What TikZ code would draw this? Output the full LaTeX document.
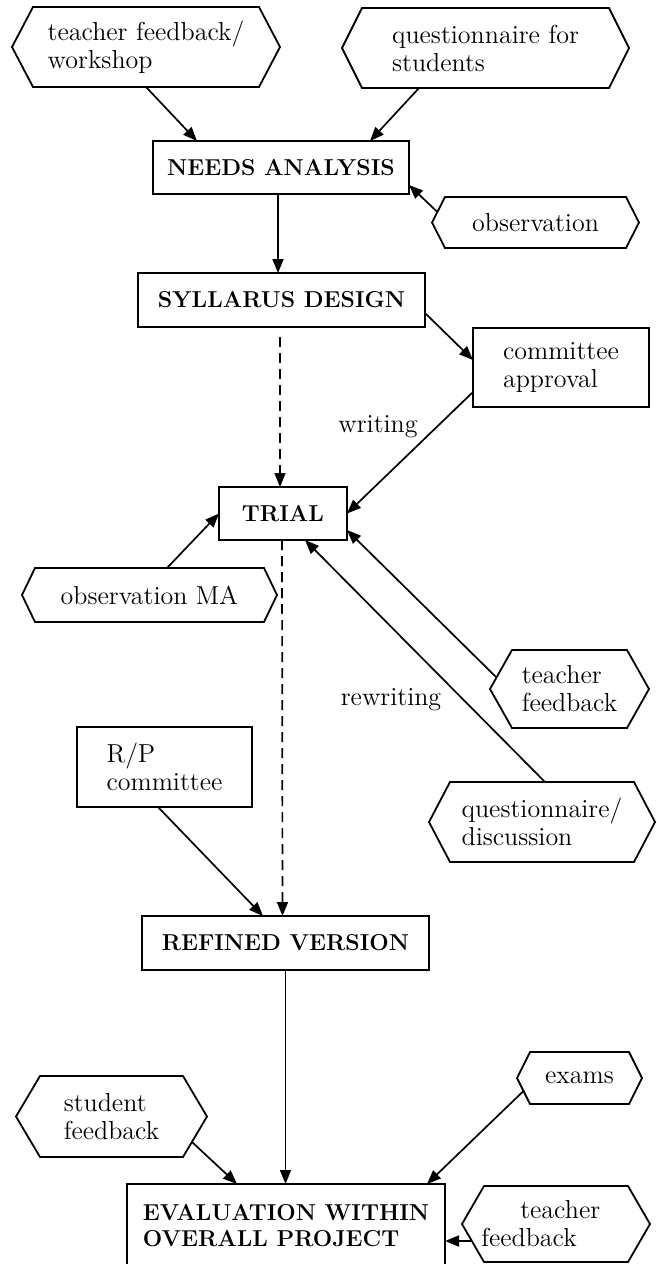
\documentclass[tikz,border=0pt]{standalone}
\usepackage{fontspec}
\usetikzlibrary{arrows.meta,calc}
\newcommand{\rmtxt}{\fontsize{13}{14}\selectfont}
\newcommand{\bftxt}{\fontsize{11.5}{13}\selectfont\bfseries}
\begin{document}
\begin{tikzpicture}[x=0.5pt,y=-0.5pt,
  every node/.style={inner sep=0pt,outer sep=0pt},
  hexbody/.style={rectangle,align=left,font=\rmtxt},
  hexline/.style={draw,line width=0.9pt,line join=miter},
  box/.style={rectangle,draw,line width=0.9pt,align=left,font=\bftxt},
  rbox/.style={rectangle,draw,line width=0.9pt,align=left,font=\rmtxt},
  lbl/.style={font=\rmtxt},
  arr/.style={line width=0.85pt,-{Triangle[length=7pt,width=5.5pt]}},
  darr/.style={arr,dash pattern=on 5pt off 3pt}]
\useasboundingbox (0,0) rectangle (657,1264);
\fill[white] (0,0) rectangle (657,1264);
\clip (0,0) rectangle (657,1264);

% hexagon-shaped inputs (text bodies)
\node[hexbody,minimum width=134pt,minimum height=40pt] (h1) at (146,47) {teacher feedback/\\workshop};
\node[hexbody,minimum width=143.5pt,minimum height=40pt] (h2) at (485.5,48) {questionnaire for\\students};
\node[hexbody,minimum width=103.5pt,minimum height=25.5pt] (obs) at (535.5,222.5) {observation};
\node[hexbody,minimum width=127.5pt,minimum height=27pt] (obsma) at (149.5,595) {observation MA};
\node[hexbody,minimum width=79.5pt,minimum height=39pt] (tf) at (569.5,689) {teacher\\feedback};
\node[hexbody,minimum width=113pt,minimum height=40pt] (qd) at (542,822) {questionnaire/\\discussion};
\node[hexbody,minimum width=62.5pt,minimum height=26pt] (ex) at (579.5,1078) {exams};
\node[hexbody,minimum width=95.5pt,minimum height=40.5pt] (sf) at (111.5,1116.5) {student\\feedback};
\node[hexbody,minimum width=94pt,minimum height=38pt] (tf2) at (556,1224) {\hspace*{19.5pt}teacher\\feedback\hspace*{27pt}};

\foreach \n/\d in {h1/21,h2/20,obs/13,obsma/13,tf/22,qd/21,ex/13,sf/24,tf2/22}{
  \draw[hexline] (\n.west) -- ($(\n.north west)+(\d,0)$) -- ($(\n.north east)+(-\d,0)$)
    -- (\n.east) -- ($(\n.south east)+(-\d,0)$) -- ($(\n.south west)+(\d,0)$) -- cycle;
}

% boxes
\node[box,minimum width=128pt,minimum height=26.5pt] (needs) at (281,167.5) {NEEDS ANALYSIS};
\node[box,minimum width=143.5pt,minimum height=27pt] (syll) at (281.5,300) {SYLLARUS DESIGN};
\node[rbox,minimum width=88pt,minimum height=39.5pt] (comm) at (561,367.5) {committee\\approval};
\node[box,minimum width=64pt,minimum height=26.5pt] (trial) at (283,513.5) {TRIAL};
\node[rbox,minimum width=87.5pt,minimum height=40pt] (rp) at (164.5,767) {R/P\\committee};
\node[box,minimum width=143.5pt,minimum height=27pt] (ref) at (285.5,943) {REFINED VERSION};
\node[box,minimum width=159pt,minimum height=42pt] (eval) at (286,1226) {EVALUATION WITHIN\\OVERALL PROJECT};

% labels
\node[lbl] (wlab) at (378,427) {writing};
\node[lbl] (rwlab) at (391,700) {rewriting};

% connectors
\draw[arr] (h1.south) -- ($(needs.north west)+(44,0)$);
\draw[arr] ($(h2.south west)+(77,0)$) -- ($(needs.north east)+(-39,0)$);
\draw[arr] ($(obs.west)+(5.4,-10.5)$) -- ($(needs.east)+(0,17.5)$);
\draw[arr] ($(needs.south)+(-3,0)$) -- ($(syll.north)+(-3.5,0)$);
\draw[arr] ($(syll.east)+(0,13)$) -- ($(comm.west)+(0,-7.5)$);
\draw[darr] ($(syll.south)+(-1.5,10)$) -- ($(trial.north)+(-3,0)$);
\draw[arr] ($(comm.south west)+(0,-15)$) -- (trial.east);
\draw[arr] ($(obsma.north)+(17.5,0)$) -- (trial.west);
\draw[arr] ($(tf.west)+(6,-12)$) -- ($(trial.south east)+(0,-10)$);
\draw[arr] ($(qd.north)+(3,0)$) -- ($(trial.south)+(22,0)$);
\draw[darr] ($(trial.south)+(-1,0)$) -- ($(ref.north)+(-3,0)$);
\draw[arr] ($(rp.south)+(-6.5,0)$) -- ($(ref.north west)+(121,0)$);
\draw[arr] (ref.south) -- (ref.south |- eval.north);
\draw[arr] ($(sf.east)+(-15,25.5)$) -- ($(eval.north west)+(110,0)$);
\draw[arr] ($(ex.west)+(6.5,13)$) -- ($(eval.north east)+(-18,0)$);
\draw[arr] ($(tf2.west)+(10,17)$) -- ($(eval.east)+(0,15)$);
\end{tikzpicture}
\end{document}
